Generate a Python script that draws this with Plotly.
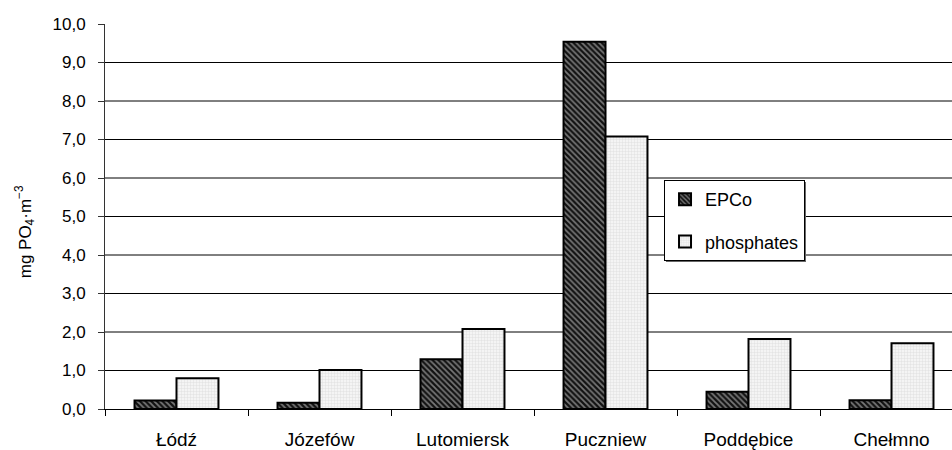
import plotly.graph_objects as go

categories = ["Łódź", "Józefów", "Lutomiersk", "Puczniew", "Poddębice", "Chełmno"]
epco = [0.22, 0.16, 1.29, 9.54, 0.45, 0.23]
phosphates = [0.80, 1.01, 2.08, 7.08, 1.82, 1.71]
y_ticks = [0, 1, 2, 3, 4, 5, 6, 7, 8, 9, 10]
y_tick_labels = ["0,0", "1,0", "2,0", "3,0", "4,0", "5,0", "6,0", "7,0", "8,0", "9,0", "10,0"]
grid_values = [1, 2, 3, 4, 5, 6, 7, 8, 9]

FONT = "Liberation Sans, Arial, sans-serif"

fig = go.Figure()
fig.add_trace(go.Bar(
    x=categories, y=epco, name="EPCo", legendgroup="a",
    marker=dict(color="#111111", line=dict(color="black", width=2),
                pattern=dict(shape="\\", fgcolor="#dddddd", bgcolor="#111111", size=4, solidity=0.45)),
))
fig.add_trace(go.Bar(
    x=categories, y=phosphates, name="phosphates", legendgroup="b",
    marker=dict(color="#eeeeee", line=dict(color="black", width=2),
                pattern=dict(shape="+", fgcolor="#c8c8c8", bgcolor="#f4f4f4", size=3, solidity=0.3)),
))

shapes = []
for g in grid_values:
    shapes.append(dict(type="line", xref="paper", yref="y", x0=0, x1=1, y0=g, y1=g,
                       line=dict(color="black", width=1), layer="below"))
# legend drop shadow (legend box is drawn on top of it)
shapes.append(dict(type="rect", xref="paper", yref="paper",
                   x0=0.6623, x1=0.8276, y0=0.3818, y1=0.5896,
                   fillcolor="#666666", line=dict(width=0), layer="above"))
fig.update_layout(shapes=shapes)

fig.update_layout(
    width=952, height=450,
    margin=dict(l=105, r=0, t=24, b=41),
    paper_bgcolor="white", plot_bgcolor="white",
    font=dict(family=FONT, size=17, color="black"),
    barmode="group", bargap=0.413, bargroupgap=0,
    showlegend=True,
    legend=dict(x=0.660, y=0.595, xanchor="left", yanchor="top",
                bgcolor="white", bordercolor="black", borderwidth=1,
                font=dict(family=FONT, size=18, color="black"),
                traceorder="grouped", tracegroupgap=16, itemwidth=30),
    xaxis=dict(type="category", range=[-0.5, 5.423], showline=True, linecolor="black", linewidth=1,
               ticks="outside", ticklen=6, tickcolor="black", tickson="boundaries",
               showgrid=False, ticklabelstandoff=13,
               tickfont=dict(family=FONT, size=19, color="black")),
    yaxis=dict(range=[0, 10], tickvals=y_ticks, ticktext=y_tick_labels,
               showline=True, linecolor="#333333", linewidth=1,
               ticks="outside", ticklen=6, tickcolor="#333333",
               showgrid=False, zeroline=False, ticklabelstandoff=9,
               tickfont=dict(family=FONT, size=17, color="black")),
    annotations=[dict(text="mg PO<sub>4</sub>·m<sup>−3</sup>", textangle=-90,
                      xref="paper", yref="paper", x=-0.094, y=0.46,
                      xanchor="center", yanchor="middle", showarrow=False,
                      font=dict(family=FONT, size=17, color="black"))],
)

fig.write_html("out.html", config={"displayModeBar": False},
               post_script="document.body.style.margin='0';document.body.style.overflow='hidden';")
